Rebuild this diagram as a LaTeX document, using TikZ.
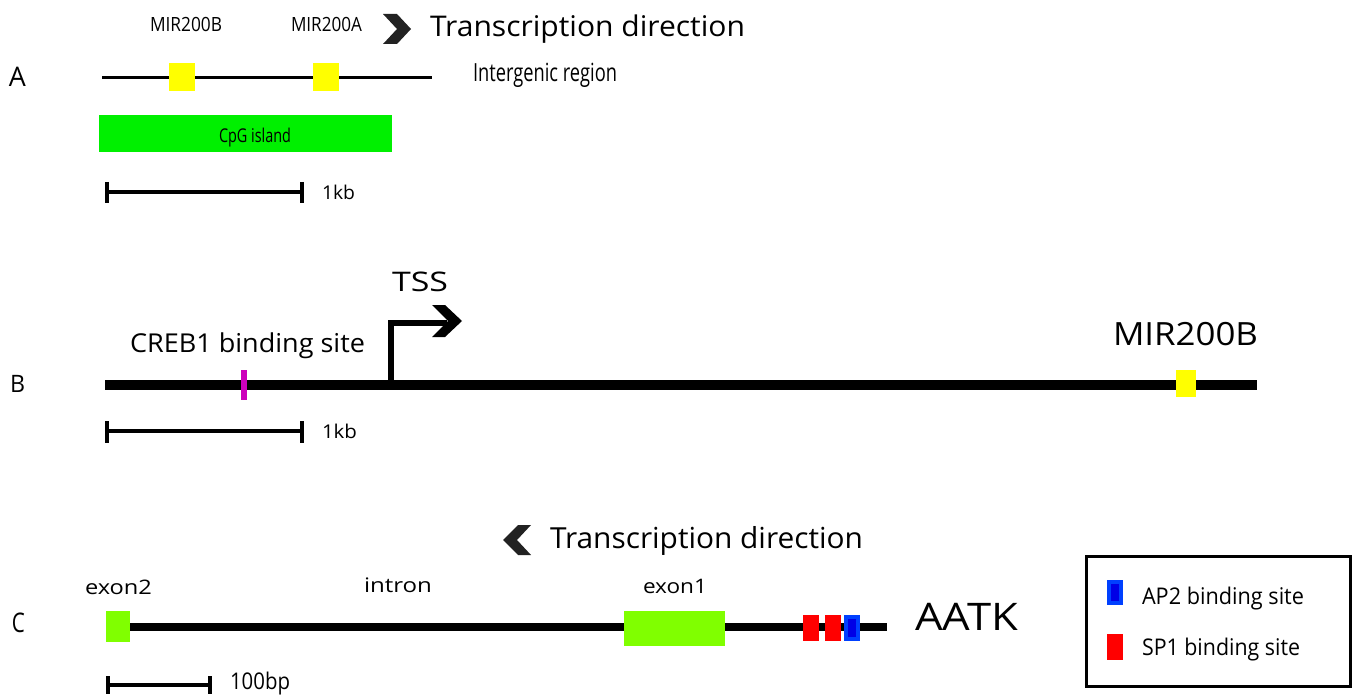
\documentclass[tikz,border=0pt]{standalone}
\usepackage{fontspec}
\setmainfont{Open Sans}
\usepackage{graphicx}
\definecolor{ylw}{RGB}{255,255,0}
\definecolor{cpg}{RGB}{0,240,0}
\definecolor{exg}{RGB}{128,255,0}
\definecolor{sponecol}{RGB}{255,0,0}
\definecolor{aptwo}{RGB}{0,64,255}
\definecolor{aptwoin}{RGB}{0,0,230}
\definecolor{crebcol}{RGB}{204,0,187}
\definecolor{chev}{RGB}{34,34,34}
\newcommand\fitt[3]{\resizebox{#1pt}{\height}{\fontsize{#2pt}{#2pt}\selectfont #3}}
\begin{document}
\begin{tikzpicture}[x=1pt,y=-1pt,
  txt/.style={inner sep=0pt, outer sep=0pt, anchor=base west},
  ctxt/.style={inner sep=0pt, outer sep=0pt, anchor=base},
  rb/.style={inner sep=0pt, outer sep=0pt, anchor=north west, draw=none},
  dna/.style={line width=#1, line cap=butt},
  bar/.style={line width=4pt, line cap=butt}]
\useasboundingbox (0,0) rectangle (1356,695);

% ---------------- Panel A ----------------
\node[txt] (labA) at (9,87) {\fitt{17}{27}{A}};
\node[txt] (mirBa) at (150,32) {\fitt{72}{19.6}{MIR200B}};
\node[txt] (mirAa) at (291,32) {\fitt{71}{19.6}{MIR200A}};
\fill[chev] (383,14) -- (397,14) -- (411,29) -- (397,44) -- (383,44) -- (397,29) -- cycle;
\node[txt] (tdA) at (430,37) {\fitt{315}{28.5}{Transcription direction}};
\coordinate (aL) at (102,77.5);
\coordinate (aR) at (432,77.5);
\draw[dna=3.5pt] (aL) -- (aR);
\node[rb, fill=ylw, minimum width=26pt, minimum height=28pt] (yA1) at (169,63) {};
\node[rb, fill=ylw, minimum width=26pt, minimum height=28pt] (yA2) at (313,63) {};
\node[txt] (inter) at (473,82) {\fitt{144}{25}{Intergenic region}};
\node[rb, fill=cpg, minimum width=293pt, minimum height=37pt] (cpgbox) at (99,115) {};
\node[ctxt] (cpgtxt) at (255,143) {\fitt{72}{19}{CpG island}};
\coordinate (sa1) at (107,192);
\coordinate (sa2) at (302,192);
\draw[bar] (sa1) -- (sa2);
\draw[bar] ([yshift=10pt]sa1) -- ([yshift=-11pt]sa1);
\draw[bar] ([yshift=10pt]sa2) -- ([yshift=-11pt]sa2);
\node[txt] (kbA) at (322,199) {\fitt{33}{19}{1kb}};

% ---------------- Panel B ----------------
\node[txt] (labB) at (10,392) {\fitt{15}{24}{B}};
\coordinate (bL) at (105,385);
\coordinate (bR) at (1257,385);
\draw[dna=10pt] (bL) -- (bR);
\node[rb, fill=crebcol, minimum width=6pt, minimum height=30pt] (creb) at (241,370) {};
\node[rb, fill=ylw, minimum width=20pt, minimum height=27pt] (yB) at (1176,370) {};
\coordinate (tss0) at (391,385);
\coordinate (tss1) at (391,323);
\coordinate (tss2) at (447,323);
\draw[line width=6.5pt, line join=miter] (tss0) -- (tss1) -- (tss2);
\fill[black] (432,305) -- (445,305) -- (462,321) -- (445,337) -- (432,337) -- (448,321) -- cycle;
\node[txt] (tss) at (392,291) {\fitt{56}{27}{TSS}};
\node[txt] (crebtxt) at (130,352) {\fitt{235}{26}{CREB1 binding site}};
\node[txt] (mirBb) at (1113,345) {\fitt{145}{32}{MIR200B}};
\coordinate (sb1) at (107,431);
\coordinate (sb2) at (302,431);
\draw[bar] (sb1) -- (sb2);
\draw[bar] ([yshift=10pt]sb1) -- ([yshift=-12pt]sb1);
\draw[bar] ([yshift=10pt]sb2) -- ([yshift=-12pt]sb2);
\node[txt] (kbB) at (322,438) {\fitt{35}{19}{1kb}};

% ---------------- Panel C ----------------
\node[txt] (labC) at (12,632) {\fitt{13}{27}{C}};
\fill[chev] (531,525) -- (518,525) -- (503,540) -- (518,555) -- (531,555) -- (517,540) -- cycle;
\node[txt] (tdC) at (550,548) {\fitt{313}{29}{Transcription direction}};
\node[txt] (ex2txt) at (85,594) {\fitt{67}{20}{exon2}};
\node[txt] (intron) at (364,592) {\fitt{68}{20}{intron}};
\node[txt] (ex1txt) at (643,593) {\fitt{64}{20}{exon1}};
\coordinate (cL) at (110,626.5);
\coordinate (cR) at (887,626.5);
\draw[dna=8pt] (cL) -- (cR);
\node[rb, fill=exg, minimum width=24pt, minimum height=31pt] (ex2) at (106,611) {};
\node[rb, fill=exg, minimum width=101pt, minimum height=35pt] (ex1) at (624,611) {};
\node[rb, fill=sponecol, minimum width=16pt, minimum height=26pt] (sp1a) at (803,615) {};
\node[rb, fill=sponecol, minimum width=16pt, minimum height=26pt] (sp1b) at (825,615) {};
\node[rb, fill=aptwo, minimum width=16pt, minimum height=26pt] (ap2) at (844,615) {};
\node[rb, fill=aptwoin, minimum width=8pt, minimum height=18pt] (ap2in) at (848,619) {};
\node[txt] (aatk) at (915,630) {\fitt{103}{38}{AATK}};
\coordinate (sc1) at (108,685);
\coordinate (sc2) at (210,685);
\draw[bar] (sc1) -- (sc2);
\draw[bar] ([yshift=9pt]sc1) -- ([yshift=-9pt]sc1);
\draw[bar] ([yshift=9pt]sc2) -- ([yshift=-9pt]sc2);
\node[txt] (bp) at (230,689) {\fitt{60}{23}{100bp}};

% ---------------- Legend ----------------
\node[rb, draw=black, line width=3pt, minimum width=264pt, minimum height=130pt] (legend) at (1086,556) {};
\node[rb, fill=aptwo, minimum width=16pt, minimum height=25pt] (lgap) at (1107,580) {};
\node[rb, fill=aptwoin, minimum width=8pt, minimum height=17pt] (lgapin) at (1111,584) {};
\node[txt] (lgaptxt) at (1142,604) {\fitt{162}{23}{AP2 binding site}};
\node[rb, fill=sponecol, minimum width=16pt, minimum height=26pt] (lgsp) at (1107,634) {};
\node[txt] (lgsptxt) at (1142,655) {\fitt{158}{23}{SP1 binding site}};
\end{tikzpicture}
\end{document}
